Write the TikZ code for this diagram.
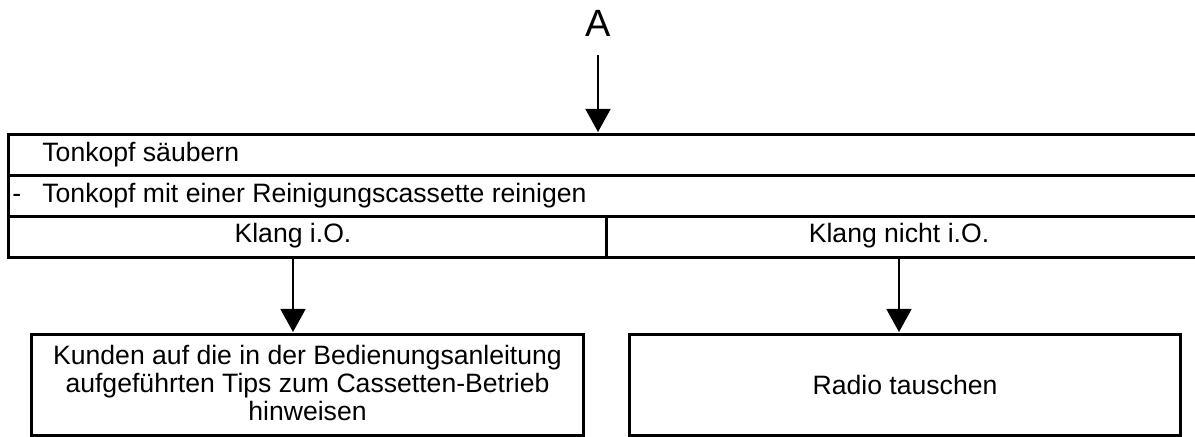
\documentclass[tikz,border=0pt]{standalone}
\usepackage{fontspec}
\setmainfont{Liberation Sans}
\usetikzlibrary{arrows.meta}
\begin{document}
\begin{tikzpicture}[x=0.5pt,y=-0.5pt,
  every node/.style={font=\fontsize{13.3}{13.8}\selectfont},
  cell/.style={draw,line width=1.5pt,inner sep=0pt,anchor=north west,minimum height=20.5pt},
  box/.style={draw,line width=1.5pt,inner sep=0pt,anchor=north west,minimum height=50.5pt,align=center},
  txt/.style={inner sep=0pt},
  arr/.style={line width=0.8pt,-{Triangle[width=12.5pt,length=11.5pt]}}]
\useasboundingbox (0,0) rectangle (1195,437);
% title letter
\node[txt,font=\fontsize{19}{22}\selectfont,anchor=base] (A) at (598,37) {A};
% table rows
\node[cell,minimum width=598pt] (r1) at (7,133) {};
\node[cell,minimum width=598pt] (r2) at (7,174) {};
\node[cell,minimum width=299pt] (c1) at (7,215) {};
\node[cell,minimum width=299pt] (c2) at (605,215) {};
\node[txt,anchor=west] (t1) at ([xshift=17.5pt]r1.west) {Tonkopf säubern};
\node[txt,anchor=west] (t2) at ([xshift=2.5pt]r2.west) {\makebox[15pt][l]{-}Tonkopf mit einer Reinigungscassette reinigen};
\node[txt] (k1) at (293,235.5) {Klang i.O.};
\node[txt] (k2) at (899,235.5) {Klang nicht i.O.};
% result boxes
\node[box,minimum width=276pt] (b1) at (30,333) {};
\node[box,minimum width=275.5pt] (b2) at (628,333) {};
\node[txt,align=center] (bt1) at ([yshift=1pt]b1.center) {Kunden auf die in der Bedienungsanleitung\\aufgeführten Tips zum Cassetten-Betrieb\\hinweisen};
\node[txt] (bt2) at (b2.center) {Radio tauschen};
% connectors
\draw[arr,shorten <=9pt,shorten >=0.5pt] (A.south) -- (A.south |- r1.north);
\draw[arr,shorten >=0.5pt] (k1 |- c1.south) -- (k1 |- b1.north);
\draw[arr,shorten >=0.5pt] (k2 |- c2.south) -- (k2 |- b2.north);
\end{tikzpicture}
\end{document}
